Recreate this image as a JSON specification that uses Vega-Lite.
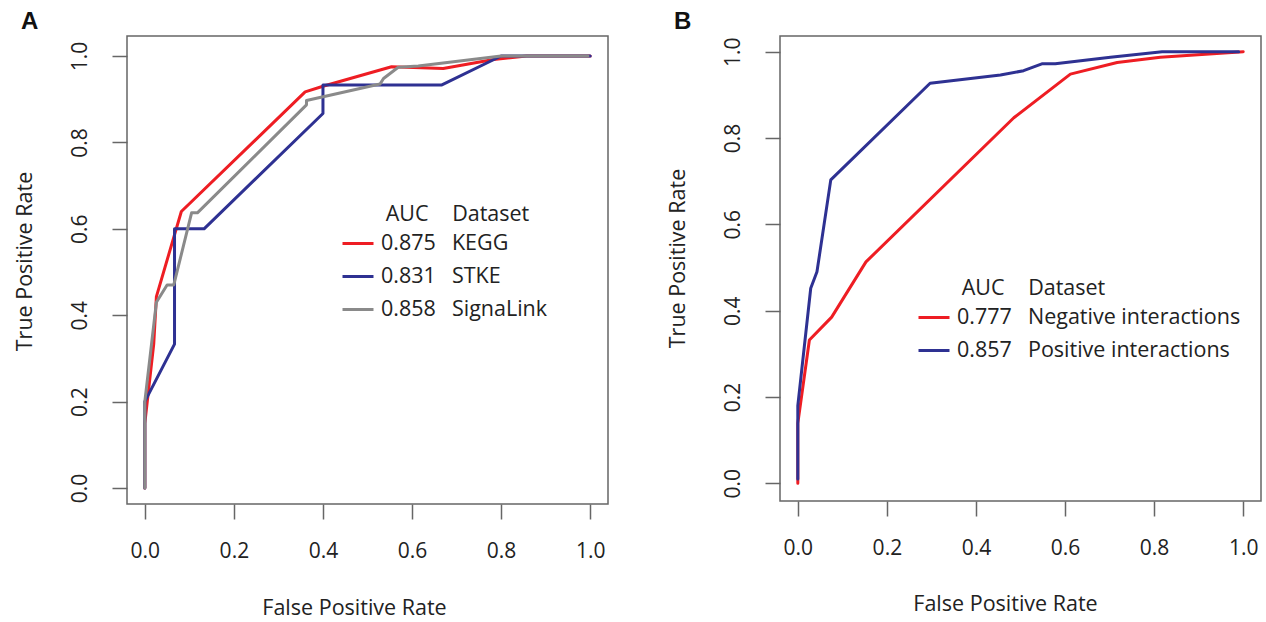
{
  "$schema": "https://vega.github.io/schema/vega-lite/v6.json",
  "background": "white",
  "padding": {"left": 13, "top": 9, "right": 0, "bottom": 0},
  "spacing": 57,
  "config": {
    "font": "Open Sans",
    "view": {"stroke": "#666666", "strokeWidth": 1.5},
    "axis": {
      "domain": false, "grid": false, "tickSize": 15, "tickColor": "#666666", "tickWidth": 1.5,
      "labelFontSize": 21, "labelColor": "#222222", "labelFont": "Open Sans", "labelFlush": false, "labelOverlap": false,
      "titleFontSize": 21.5, "titleFontWeight": "normal", "titleColor": "#222222", "titleFont": "Open Sans"
    },
    "legend": {
      "orient": "none", "padding": 0, "symbolType": "stroke", "symbolSize": 961, "symbolStrokeWidth": 3,
      "labelFontSize": 21.5, "labelColor": "#222222", "labelFont": "Open Sans", "labelOffset": 6, "labelLimit": 400,
      "titleFontSize": 21.5, "titleFontWeight": "normal", "titleColor": "#222222", "titleFont": "Open Sans", "titleLimit": 500,
      "rowPadding": 5, "titlePadding": 1
    }
  },
  "datasets": {
    "rocA": [
      {"dataset": "KEGG", "i": 0, "fpr": 0, "tpr": 0},
      {"dataset": "KEGG", "i": 1, "fpr": 0, "tpr": 0.15},
      {"dataset": "KEGG", "i": 2, "fpr": 0.02, "tpr": 0.333},
      {"dataset": "KEGG", "i": 3, "fpr": 0.026, "tpr": 0.443},
      {"dataset": "KEGG", "i": 4, "fpr": 0.082, "tpr": 0.64},
      {"dataset": "KEGG", "i": 5, "fpr": 0.36, "tpr": 0.917},
      {"dataset": "KEGG", "i": 6, "fpr": 0.4, "tpr": 0.93},
      {"dataset": "KEGG", "i": 7, "fpr": 0.554, "tpr": 0.975},
      {"dataset": "KEGG", "i": 8, "fpr": 0.67, "tpr": 0.971},
      {"dataset": "KEGG", "i": 9, "fpr": 0.783, "tpr": 0.992},
      {"dataset": "KEGG", "i": 10, "fpr": 0.857, "tpr": 1.0},
      {"dataset": "KEGG", "i": 11, "fpr": 1.0, "tpr": 1.0},
      {"dataset": "STKE", "i": 0, "fpr": 0, "tpr": 0},
      {"dataset": "STKE", "i": 1, "fpr": 0, "tpr": 0.2},
      {"dataset": "STKE", "i": 2, "fpr": 0.0667, "tpr": 0.333},
      {"dataset": "STKE", "i": 3, "fpr": 0.0667, "tpr": 0.6},
      {"dataset": "STKE", "i": 4, "fpr": 0.133, "tpr": 0.6},
      {"dataset": "STKE", "i": 5, "fpr": 0.4, "tpr": 0.867},
      {"dataset": "STKE", "i": 6, "fpr": 0.4, "tpr": 0.933},
      {"dataset": "STKE", "i": 7, "fpr": 0.667, "tpr": 0.933},
      {"dataset": "STKE", "i": 8, "fpr": 0.8, "tpr": 1.0},
      {"dataset": "STKE", "i": 9, "fpr": 1.0, "tpr": 1.0},
      {"dataset": "SignaLink", "i": 0, "fpr": 0, "tpr": 0},
      {"dataset": "SignaLink", "i": 1, "fpr": 0, "tpr": 0.2},
      {"dataset": "SignaLink", "i": 2, "fpr": 0.026, "tpr": 0.43},
      {"dataset": "SignaLink", "i": 3, "fpr": 0.05, "tpr": 0.47},
      {"dataset": "SignaLink", "i": 4, "fpr": 0.065, "tpr": 0.47},
      {"dataset": "SignaLink", "i": 5, "fpr": 0.105, "tpr": 0.637},
      {"dataset": "SignaLink", "i": 6, "fpr": 0.118, "tpr": 0.637},
      {"dataset": "SignaLink", "i": 7, "fpr": 0.363, "tpr": 0.887},
      {"dataset": "SignaLink", "i": 8, "fpr": 0.363, "tpr": 0.897},
      {"dataset": "SignaLink", "i": 9, "fpr": 0.528, "tpr": 0.935},
      {"dataset": "SignaLink", "i": 10, "fpr": 0.536, "tpr": 0.948},
      {"dataset": "SignaLink", "i": 11, "fpr": 0.569, "tpr": 0.974},
      {"dataset": "SignaLink", "i": 12, "fpr": 0.614, "tpr": 0.977},
      {"dataset": "SignaLink", "i": 13, "fpr": 0.8, "tpr": 1.0},
      {"dataset": "SignaLink", "i": 14, "fpr": 0.995, "tpr": 1.0}
    ],
    "rocB": [
      {"dataset": "Negative interactions", "i": 0, "fpr": 0, "tpr": 0},
      {"dataset": "Negative interactions", "i": 1, "fpr": 0, "tpr": 0.139},
      {"dataset": "Negative interactions", "i": 2, "fpr": 0.026, "tpr": 0.332},
      {"dataset": "Negative interactions", "i": 3, "fpr": 0.076, "tpr": 0.385},
      {"dataset": "Negative interactions", "i": 4, "fpr": 0.153, "tpr": 0.513},
      {"dataset": "Negative interactions", "i": 5, "fpr": 0.485, "tpr": 0.847},
      {"dataset": "Negative interactions", "i": 6, "fpr": 0.612, "tpr": 0.948},
      {"dataset": "Negative interactions", "i": 7, "fpr": 0.717, "tpr": 0.975},
      {"dataset": "Negative interactions", "i": 8, "fpr": 0.814, "tpr": 0.987},
      {"dataset": "Negative interactions", "i": 9, "fpr": 1.0, "tpr": 1.0},
      {"dataset": "Positive interactions", "i": 0, "fpr": 0, "tpr": 0.01},
      {"dataset": "Positive interactions", "i": 1, "fpr": 0, "tpr": 0.18},
      {"dataset": "Positive interactions", "i": 2, "fpr": 0.029, "tpr": 0.452},
      {"dataset": "Positive interactions", "i": 3, "fpr": 0.043, "tpr": 0.49},
      {"dataset": "Positive interactions", "i": 4, "fpr": 0.074, "tpr": 0.703},
      {"dataset": "Positive interactions", "i": 5, "fpr": 0.297, "tpr": 0.927},
      {"dataset": "Positive interactions", "i": 6, "fpr": 0.455, "tpr": 0.946},
      {"dataset": "Positive interactions", "i": 7, "fpr": 0.507, "tpr": 0.956},
      {"dataset": "Positive interactions", "i": 8, "fpr": 0.548, "tpr": 0.972},
      {"dataset": "Positive interactions", "i": 9, "fpr": 0.578, "tpr": 0.972},
      {"dataset": "Positive interactions", "i": 10, "fpr": 0.702, "tpr": 0.987},
      {"dataset": "Positive interactions", "i": 11, "fpr": 0.818, "tpr": 1.0},
      {"dataset": "Positive interactions", "i": 12, "fpr": 0.99, "tpr": 1.0}
    ]
  },
  "resolve": {"scale": {"color": "independent"}, "legend": {"color": "independent"}},
  "hconcat": [
    {
      "width": 481, "height": 468,
      "title": {"text": "A", "anchor": "start", "frame": "bounds", "offset": 2, "dx": 7, "fontSize": 24, "fontWeight": "bold", "font": "Liberation Sans", "color": "#111111"},
      "data": {"name": "rocA"},
      "mark": {"type": "line", "strokeWidth": 3, "strokeCap": "round", "strokeJoin": "round"},
      "encoding": {
        "x": {"field": "fpr", "type": "quantitative", "scale": {"domain": [-0.04, 1.04], "nice": false, "zero": false},
          "axis": {"title": "False Positive Rate", "values": [0, 0.2, 0.4, 0.6, 0.8, 1.0], "format": ".1f", "labelBaseline": "middle", "labelPadding": 32, "titleX": 227, "titleY": 104, "titleBaseline": "middle"}},
        "y": {"field": "tpr", "type": "quantitative", "scale": {"domain": [-0.037, 1.0463], "nice": false, "zero": false},
          "axis": {"title": "True Positive Rate", "values": [0, 0.2, 0.4, 0.6, 0.8, 1.0], "format": ".1f", "labelAngle": -90, "labelAlign": "center", "labelBaseline": "middle", "labelPadding": 32, "titleX": -102, "titleY": 225, "titleBaseline": "middle", "titleAngle": -90}},
        "color": {"field": "dataset", "type": "nominal",
          "scale": {"domain": ["KEGG", "STKE", "SignaLink"], "range": ["#ee1d23", "#2e3192", "#8a8a8a"]},
          "legend": {"title": "\u200b\u00a0\u00a0\u00a0\u00a0\u00a0\u00a0\u00a0\u00a0AUC\u2002\u2002\u200aDataset", "legendX": 214, "legendY": 168,
            "labelExpr": "datum.label == 'KEGG' ? '0.875\u2002\u2005KEGG' : datum.label == 'STKE' ? '0.831\u2002\u2005STKE' : '0.858\u2002\u2005SignaLink'"}},
        "order": {"field": "i"}
      }
    },
    {
      "width": 481, "height": 465,
      "title": {"text": "B", "anchor": "start", "frame": "bounds", "offset": 2, "dx": 7, "fontSize": 24, "fontWeight": "bold", "font": "Liberation Sans", "color": "#111111"},
      "data": {"name": "rocB"},
      "mark": {"type": "line", "strokeWidth": 3, "strokeCap": "round", "strokeJoin": "round"},
      "encoding": {
        "x": {"field": "fpr", "type": "quantitative", "scale": {"domain": [-0.04, 1.04], "nice": false, "zero": false},
          "axis": {"title": "False Positive Rate", "values": [0, 0.2, 0.4, 0.6, 0.8, 1.0], "format": ".1f", "labelBaseline": "middle", "labelPadding": 32, "titleX": 225, "titleY": 103, "titleBaseline": "middle"}},
        "y": {"field": "tpr", "type": "quantitative", "scale": {"domain": [-0.041, 1.0364], "nice": false, "zero": false},
          "axis": {"title": "True Positive Rate", "values": [0, 0.2, 0.4, 0.6, 0.8, 1.0], "format": ".1f", "labelAngle": -90, "labelAlign": "center", "labelBaseline": "middle", "labelPadding": 32, "titleX": -102, "titleY": 222, "titleBaseline": "middle", "titleAngle": -90}},
        "color": {"field": "dataset", "type": "nominal",
          "scale": {"domain": ["Negative interactions", "Positive interactions"], "range": ["#ee1d23", "#2e3192"]},
          "legend": {"title": "\u200b\u00a0\u00a0\u00a0\u00a0\u00a0\u00a0\u00a0\u00a0AUC\u2002\u2002\u200aDataset", "legendX": 137, "legendY": 242,
            "labelExpr": "datum.label == 'Negative interactions' ? '0.777\u2002\u2005Negative interactions' : '0.857\u2002\u2005Positive interactions'"}},
        "order": {"field": "i"}
      }
    }
  ]
}
